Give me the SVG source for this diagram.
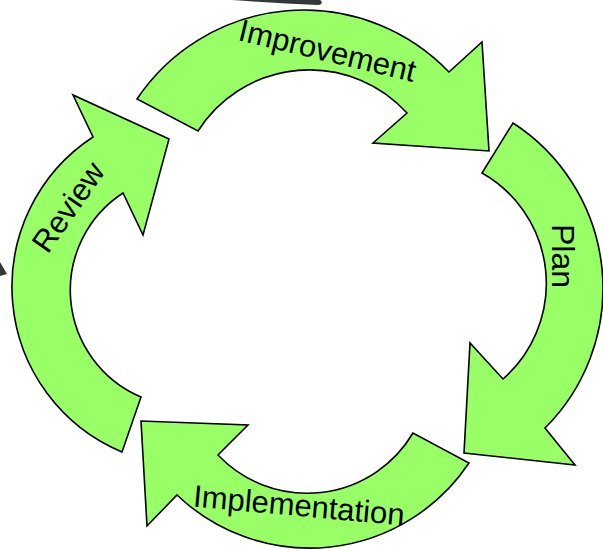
<svg xmlns="http://www.w3.org/2000/svg" width="603" height="549" viewBox="0 0 603 549">
<style>
.arrow{fill:#99ff66;stroke:#000;stroke-width:1.6;stroke-linejoin:miter}
.lbl{font-family:"Liberation Sans",Arial,sans-serif;font-size:31px;fill:#000;text-anchor:middle}
.dark{fill:#313838;stroke:none}
</style>
<rect width="603" height="549" fill="#fff"/>
<path class="dark" d="M232,0 L320,0 C323,2 322,5 318,5 C290,4 260,2 232,0 Z"/>
<path class="dark" d="M0,262 L7,274 L0,276 Z"/>
<g id="connectors">
<g id="improvement">
<path class="arrow" d="M137,99 A201,201 0 0 1 449,72 L482,42 L489,151 L373,143 L407,113 A132,132 0 0 0 198,131 Z"/>
<text class="lbl" transform="translate(325,61) rotate(13.5)">Improvement</text>
</g>
<g id="plan">
<path class="arrow" d="M513,123 A197,197 0 0 1 545,428 L575,465 L464,453 L470,343 L503,379 A127,127 0 0 0 482,173 Z"/>
<text class="lbl" style="font-size:32px" transform="translate(552,256) rotate(90)">Plan</text>
</g>
<g id="implementation">
<path class="arrow" d="M469,463 A192,192 0 0 1 177,495 L147,526 L141,421 L248,425 L218,455 A123,123 0 0 0 413,433 Z"/>
<text class="lbl" transform="translate(298,516) rotate(5.1)">Implementation</text>
</g>
<g id="review">
<path class="arrow" d="M122,452 A179,179 0 0 1 93,137 L73,95 L169,139 L143,235 L123,193 A116,116 0 0 0 141,397 Z"/>
<text class="lbl" transform="translate(77,213) rotate(-55)">Review</text>
</g>
</g>
</svg>
